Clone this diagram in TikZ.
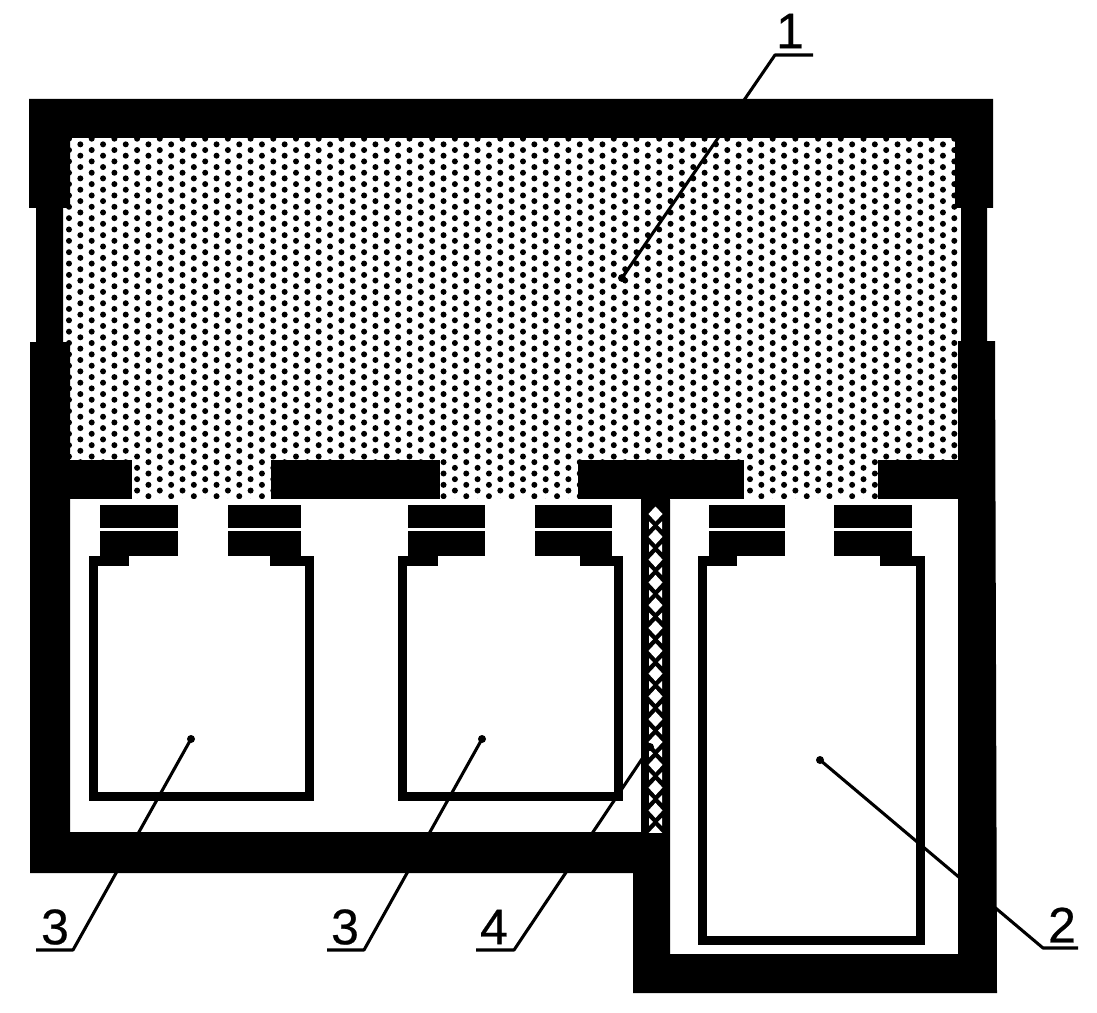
\documentclass[tikz,border=0pt]{standalone}
\usepackage{fontspec}
\setmainfont{Liberation Sans}
\newfontfamily\tagfont[FakeBold=0.5]{Liberation Sans}
\tikzset{
  x=0.75pt,y=-0.75pt,
  solid/.style={fill=black,draw=none},
  bottle/.style={draw=black,line width=6.9pt,line join=miter},
  leader/.style={draw=black,line width=2.3pt,line join=round},
  tag/.style={inner sep=0pt,font=\tagfont\fontsize{37.5}{37.5}\selectfont},
  endpt/.style={circle,fill=black,inner sep=0pt,minimum size=6pt},
}
\newcommand{\bottleshape}[9]{%
  \draw[bottle] (#1+4.5,556) -- (#1+4.5,#3-4.5) -- (#2-4.5,#3-4.5) -- (#2-4.5,556);
  \fill[solid] (#1,556) rectangle (#4,566);
  \fill[solid] (#7,556) rectangle (#2,566);
  \fill[solid] (#5,505) rectangle (#6,528);
  \fill[solid] (#5,531) rectangle (#6,556);
  \fill[solid] (#8,505) rectangle (#9,528);
  \fill[solid] (#8,531) rectangle (#9,556);
}
\begin{document}
\begin{tikzpicture}
\useasboundingbox (0,0) rectangle (1097,1013);
% dotted gas region
\begin{scope}
\clip (63,138) rectangle (961,500);
\foreach \c in {0,...,79}{
  \pgfmathsetmacro{\xx}{69+11.35*\c}
  \pgfmathsetmacro{\off}{(1-mod(\c,2))*5.7}
  \foreach \r in {0,...,32}{
    \fill (\xx,133+\off+11.35*\r) circle[radius=3];
  }
}
\end{scope}
% white chambers over the dots
\fill[white] (70,499) rectangle (641,832);
\fill[white] (670,499) rectangle (958,954);
% housing
\fill[solid] (29,99) -- (993,99) -- (993,208) -- (987,208) -- (987,341) -- (995,341) -- (997,993)
  -- (633,993) -- (633,873) -- (30,873) -- (30,342) -- (36,342) -- (36,208) -- (29,208) -- cycle
  (70,138) -- (70,208) -- (63,208) -- (63,342) -- (70,342) -- (70,832) -- (641,832) -- (641,500)
  -- (670,500) -- (670,954) -- (958,954) -- (958,341) -- (961,341) -- (961,208) -- (955,208) -- (955,138) -- cycle;
% top bars of the lower chambers
\fill[solid] (69,460) rectangle (132,499);
\fill[solid] (271,460) rectangle (440,499);
\fill[solid] (578,460) rectangle (744,499);
\fill[solid] (878,460) rectangle (958,499);
% mesh separator
\begin{scope}
\clip (641,499) rectangle (670,832);
\fill[black] (641,499) rectangle (670,832);
\foreach \r in {0,...,14}{
  \fill[white] (655.5,514+22.8*\r-7.5) -- ++(7,7.5) -- ++(-7,7.5) -- ++(-7,-7.5) -- cycle;
  \fill[white] (649,525.4+22.8*\r-4) -- ++(4,4) -- ++(-4,4) -- cycle;
  \fill[white] (662,525.4+22.8*\r-4) -- ++(-4,4) -- ++(4,4) -- cycle;
}
\end{scope}
% bottles: left, right, bottom, left shoulder end, left cap, right shoulder start, right cap
\bottleshape{89}{314}{801}{129}{100}{178}{270}{228}{301}
\bottleshape{398}{623}{801}{438}{408}{485}{580}{535}{612}
\bottleshape{698}{925}{945}{737}{709}{785}{880}{834}{912}
% labels and leaders
\node[endpt] (p1) at (622,278) {};
\node[endpt] (p3a) at (191,739) {};
\node[endpt] (p3b) at (482,739) {};
\node[endpt] (p4) at (650,747) {};
\node[endpt] (p2) at (820,760) {};
\coordinate (k1) at (775,55);  \coordinate (e1) at (813,55);
\coordinate (k3a) at (73,950); \coordinate (e3a) at (36,950);
\coordinate (k3b) at (364,950); \coordinate (e3b) at (327,950);
\coordinate (k4) at (514,950); \coordinate (e4) at (476,950);
\coordinate (k2) at (1043,948); \coordinate (e2) at (1078,948);
\draw[leader] (p1.center) -- (k1) -- (e1);
\draw[leader] (p3a.center) -- (k3a) -- (e3a);
\draw[leader] (p3b.center) -- (k3b) -- (e3b);
\draw[leader] (p4.center) -- (k4) -- (e4);
\draw[leader] (p2.center) -- (k2) -- (e2);
\node[tag] (t1) at (790,31) {1};
\node[tag] (t3a) at (55,927) {3};
\node[tag] (t3b) at (345,927) {3};
\node[tag] (t4) at (494,927) {4};
\node[tag] (t2) at (1062,925) {2};
\end{tikzpicture}
\end{document}
